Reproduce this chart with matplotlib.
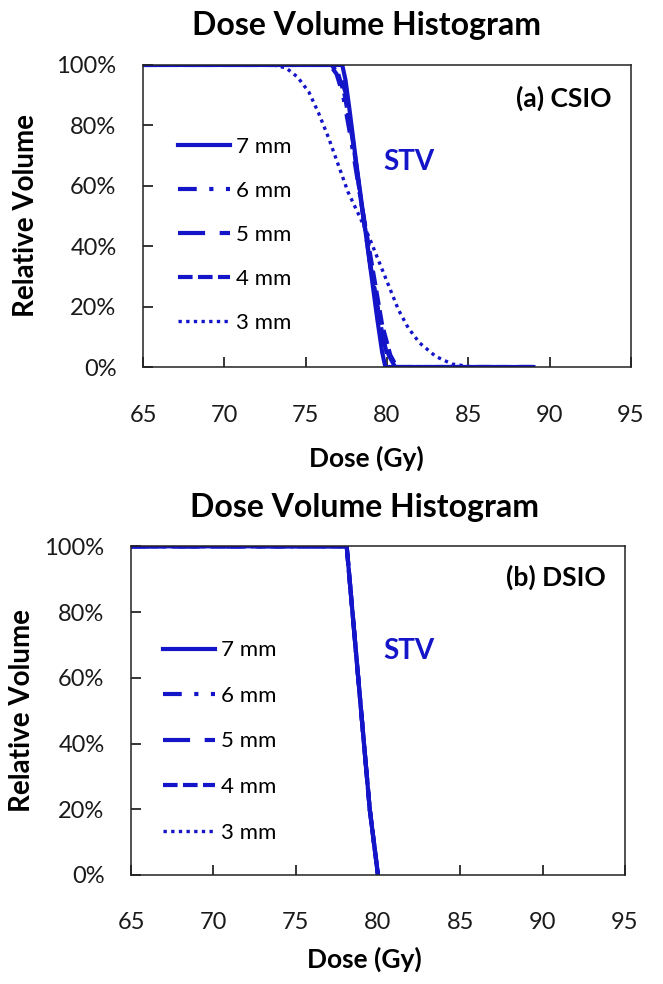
import matplotlib.pyplot as plt
from matplotlib.ticker import PercentFormatter

plt.rcParams["font.family"] = ["Lato", "DejaVu Sans"]

BLUE = "#1414c8"

labels = ["7 mm", "6 mm", "5 mm", "4 mm", "3 mm"]

# (a) CSIO: dose (Gy) and relative volume (%)
csio_dose = {
    "7 mm": [65, 77.25, 77.45, 77.7, 78.1, 78.5, 79.0, 79.4, 79.7, 79.9, 89],
    "6 mm": [65, 76.5, 76.9, 77.3, 77.8, 78.4, 79.0, 79.6, 80.1, 80.5, 89],
    "5 mm": [65, 76.7, 77.1, 77.5, 77.9, 78.4, 79.0, 79.6, 80.0, 80.4, 89],
    "4 mm": [65, 76.6, 77.0, 77.4, 77.9, 78.4, 79.1, 79.7, 80.2, 80.6, 89],
    "3 mm": [65, 73.0, 73.8, 74.5, 75.2, 75.8, 76.4, 77.0, 77.6, 78.3, 78.9,
             79.5, 80.1, 80.7, 81.3, 82.0, 83.0, 84.0, 85.0, 86.0, 89],
}
csio_vol = {
    "7 mm": [100, 100, 95, 85, 68, 52, 32, 16, 5, 0, 0],
    "6 mm": [100, 100, 97, 90, 75, 55, 33, 14, 4, 0, 0],
    "5 mm": [100, 100, 97, 90, 75, 55, 33, 14, 4, 0, 0],
    "4 mm": [100, 100, 97, 90, 75, 55, 33, 14, 4, 0, 0],
    "3 mm": [100, 100, 99, 96, 91, 84, 76, 67, 58, 50, 43,
             35, 27, 19, 13, 8, 3.5, 1, 0.2, 0, 0],
}

# (b) DSIO: all margins overlap
dsio_dose = [65, 78.1, 78.8, 79.5, 80.0]
dsio_vol = [100, 100, 60, 20, 0]

styles = {
    "7 mm": dict(linestyle="-", linewidth=3.0),
    "6 mm": dict(linestyle=(0, (4.5, 3, 1, 3)), linewidth=3.0),
    "5 mm": dict(linestyle=(0, (6.5, 3.5)), linewidth=3.0),
    "4 mm": dict(linestyle=(0, (3.5, 1.3)), linewidth=3.0),
    "3 mm": dict(linestyle=(0, (1, 1.3)), linewidth=2.4),
}


def style_axes(ax, tag, cx, title_y, xlab_y, ylab_x, tag_y, leg_anchor, leg_space):
    ax.set_xlim(65, 95)
    ax.set_ylim(0, 100)
    ax.set_xticks(range(65, 96, 5))
    ax.set_yticks(range(0, 101, 20))
    ax.yaxis.set_major_formatter(PercentFormatter(decimals=0))
    ax.tick_params(direction="in", length=7, width=1.1, labelsize=17,
                   colors="black", labelcolor="#1a1a1a")
    ax.tick_params(axis="x", pad=27)
    ax.tick_params(axis="y", pad=19)
    for s in ax.spines.values():
        s.set_linewidth(1.1)
        s.set_color("#222222")
    ax.text(cx, title_y, "Dose Volume Histogram", transform=ax.transAxes,
            ha="center", va="center", fontsize=23, fontweight="bold")
    ax.set_xlabel("Dose (Gy)", fontsize=19, fontweight="bold", va="center")
    ax.xaxis.set_label_coords(cx, xlab_y)
    ax.set_ylabel("Relative Volume", fontsize=20, fontweight="bold", va="center")
    ax.yaxis.set_label_coords(ylab_x, 0.5)
    ax.text(0.961, tag_y, tag, transform=ax.transAxes, ha="right", va="center",
            fontsize=19, fontweight="bold")
    ax.legend(loc="upper left", bbox_to_anchor=leg_anchor, frameon=False,
              borderpad=0, borderaxespad=0, fontsize=16, handlelength=2.35,
              handletextpad=0.25, labelspacing=leg_space)


fig = plt.figure(figsize=(6.63, 9.84), dpi=100)
ax1 = fig.add_axes([0.2157, 0.627, 0.736, 0.307])
ax2 = fig.add_axes([0.1976, 0.1108, 0.745, 0.334])

for lab in labels:
    ax1.plot(csio_dose[lab], csio_vol[lab], color=BLUE, label=lab, **styles[lab])
for lab in labels:
    ax2.plot(dsio_dose, dsio_vol, color=BLUE, label=lab, **styles[lab])

style_axes(ax1, "(a) CSIO", 0.457, 1.129, -0.301, -0.240, 0.89, (0.072, 0.762), 1.08)
style_axes(ax2, "(b) DSIO", 0.472, 1.119, -0.258, -0.221, 0.906, (0.065, 0.714), 1.15)
ax1.text(79.75, 68, "STV", color=BLUE, fontsize=20, fontweight="bold", va="center")
ax2.text(80.3, 68, "STV", color=BLUE, fontsize=20, fontweight="bold", va="center")

fig.savefig("out.png", dpi=100)
